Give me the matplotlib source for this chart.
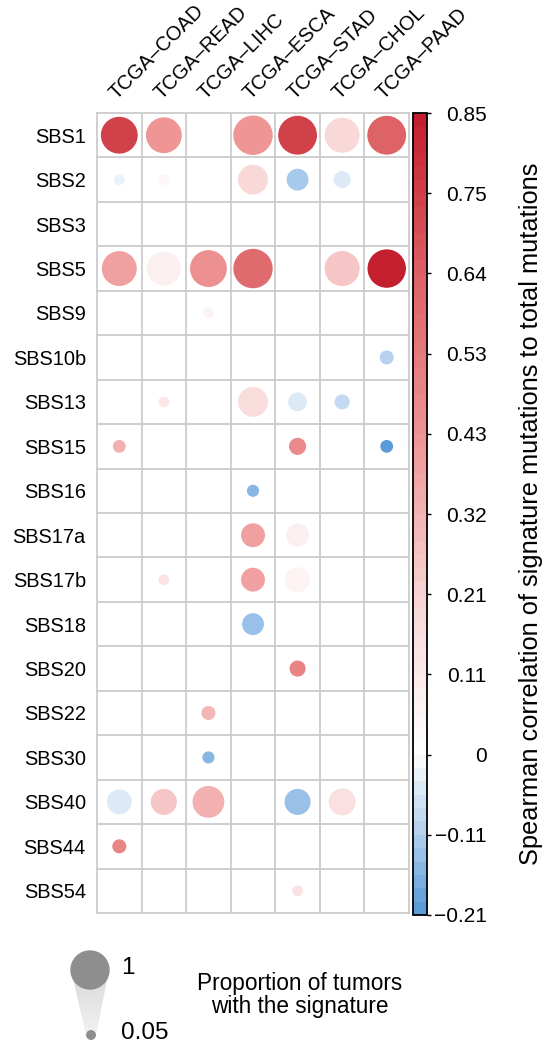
import matplotlib
matplotlib.use("Agg")
import matplotlib.pyplot as plt
import numpy as np
from matplotlib.cm import ScalarMappable
from matplotlib.colors import LinearSegmentedColormap, Normalize
from matplotlib.patches import Polygon

plt.rcParams["font.family"] = ["Liberation Sans", "DejaVu Sans"]

CANCERS = ["TCGA–COAD", "TCGA–READ", "TCGA–LIHC", "TCGA–ESCA",
           "TCGA–STAD", "TCGA–CHOL", "TCGA–PAAD"]
SIGNATURES = ["SBS1", "SBS2", "SBS3", "SBS5", "SBS9", "SBS10b", "SBS13", "SBS15",
              "SBS16", "SBS17a", "SBS17b", "SBS18", "SBS20", "SBS22", "SBS30",
              "SBS40", "SBS44", "SBS54"]
N = np.nan
# proportion of tumors with the signature (circle size)
PROP = [
    [0.87, 0.82, N, 1.00, 0.97, 0.78, 0.97],   # SBS1
    [0.06, 0.06, N, 0.56, 0.29, 0.17, N],      # SBS2
    [N, N, N, N, N, N, N],                     # SBS3
    [0.78, 0.73, 0.87, 1.00, N, 0.78, 0.95],   # SBS5
    [N, N, 0.06, N, N, N, N],                  # SBS9
    [N, N, N, N, N, N, 0.11],                  # SBS10b
    [N, 0.06, N, 0.56, 0.21, 0.13, N],         # SBS13
    [0.09, N, N, N, 0.17, N, 0.09],            # SBS15
    [N, N, N, 0.08, N, N, N],                  # SBS16
    [N, N, N, 0.35, 0.32, N, N],               # SBS17a
    [N, 0.06, N, 0.35, 0.38, N, N],            # SBS17b
    [N, N, N, 0.29, N, N, N],                  # SBS18
    [N, N, N, N, 0.15, N, N],                  # SBS20
    [N, N, 0.11, N, N, N, N],                  # SBS22
    [N, N, 0.08, N, N, N, N],                  # SBS30
    [0.38, 0.42, 0.64, N, 0.42, 0.45, N],      # SBS40
    [0.11, N, N, N, N, N, N],                  # SBS44
    [N, N, N, N, 0.06, N, N],                  # SBS54
]
# spearman correlation of signature mutations to total mutations (colour)
CORR = [
    [0.73, 0.42, N, 0.42, 0.73, 0.18, 0.63],
    [-0.02, 0.05, N, 0.18, -0.115, -0.04, N],
    [N, N, N, N, N, N, N],
    [0.38, 0.09, 0.43, 0.60, N, 0.26, 0.85],
    [N, N, 0.06, N, N, N, N],
    [N, N, N, N, N, N, -0.10],
    [N, 0.12, N, 0.17, -0.05, -0.08, N],
    [0.33, N, N, N, 0.47, N, -0.20],
    [N, N, N, -0.14, N, N, N],
    [N, N, N, 0.38, 0.08, N, N],
    [N, 0.13, N, 0.38, 0.07, N, N],
    [N, N, N, -0.125, N, N, N],
    [N, N, N, N, 0.48, N, N],
    [N, N, 0.31, N, N, N, N],
    [N, N, -0.14, N, N, N, N],
    [-0.04, 0.26, 0.32, N, -0.13, 0.15, N],
    [0.48, N, N, N, N, N, N],
    [N, N, N, N, 0.13, N, N],
]
CBAR_LABELS = ["−0.21", "−0.11", "0", "0.11", "0.21", "0.32", "0.43",
               "0.53", "0.64", "0.75", "0.85"]
LEGEND_PROPS = [1, 0.05]

VMIN, VMAX = -0.21, 0.85
W, H = 548, 1048
FS = 14.4
SIZE1 = (38 * 0.72) ** 2   # marker area for proportion 1


def frac(v):
    return (v - VMIN) / (VMAX - VMIN)


cmap = LinearSegmentedColormap.from_list(
    "bwr_corr",
    [(0, "#5b9bd8"), (frac(-0.11), "#b0cfee"), (frac(0), "#ffffff"),
     (frac(0.21), "#f8d3d3"), (frac(0.43), "#ee9292"), (frac(0.64), "#dd6265"),
     (1, "#c41f2e")], N=60)
norm = Normalize(VMIN, VMAX)

fig = plt.figure(figsize=(W / 100, H / 100), dpi=100)

# background overlay in pixel coordinates (legend)
bg = fig.add_axes([0, 0, 1, 1])
bg.set_xlim(0, W)
bg.set_ylim(H, 0)
bg.axis("off")

ax = fig.add_axes([97 / W, (H - 913) / H, 312 / W, 800 / H])
prop = np.array(PROP, dtype=float)
corr = np.array(CORR, dtype=float)
rows, cols = np.where(~np.isnan(prop))
ax.scatter(cols + 0.5, rows + 0.5, s=SIZE1 * prop[rows, cols],
           c=corr[rows, cols], cmap=cmap, norm=norm,
           edgecolors="face", linewidths=1.0, zorder=3)
ax.set_xlim(0, len(CANCERS))
ax.set_ylim(len(SIGNATURES), 0)
for k in range(1, len(CANCERS)):
    ax.axvline(k, color="#cbcbcb", lw=1.3, zorder=1)
for k in range(1, len(SIGNATURES)):
    ax.axhline(k, color="#cbcbcb", lw=1.3, zorder=1)
for sp in ax.spines.values():
    sp.set_color("#cbcbcb")
    sp.set_linewidth(1.3)

ax.xaxis.tick_top()
ax.set_xticks(np.arange(len(CANCERS)) + 0.5)
ax.set_xticklabels(CANCERS, rotation=45, ha="left", va="bottom",
                   rotation_mode="anchor", fontsize=FS)
ax.set_yticks(np.arange(len(SIGNATURES)) + 0.5)
ax.set_yticklabels(SIGNATURES, fontsize=FS)
ax.tick_params(axis="x", length=0, pad=7)
ax.tick_params(axis="y", length=0, pad=8)

# colorbar
cax = fig.add_axes([413 / W, (H - 915) / H, 14 / W, 802 / H])
cb = fig.colorbar(ScalarMappable(norm=norm, cmap=cmap), cax=cax)
cb.outline.set_linewidth(1.3)
cb.set_ticks(np.linspace(VMIN, VMAX, len(CBAR_LABELS)))
cb.set_ticklabels(CBAR_LABELS)
cax.tick_params(length=3, width=1, pad=40, labelsize=15)
for lbl in cax.get_yticklabels():
    lbl.set_ha("right")
fig.text(531 / W, 1 - 514 / H,
         "Spearman correlation of signature mutations to total mutations",
         rotation=90, ha="center", va="center", fontsize=18.3)

# size legend
grad = np.linspace(0, 1, 100)[:, None]
wedge = Polygon([[71, 970], [109, 970], [96, 1035], [86, 1035]], closed=True,
                facecolor="none", edgecolor="none")
bg.add_patch(wedge)
im = bg.imshow(grad, extent=[70, 110, 1035, 970], cmap=LinearSegmentedColormap.from_list(
    "g", ["#d8d8d8", "#f2f2f2"]), aspect="auto", zorder=1)
im.set_clip_path(wedge)
bg.scatter([90, 91], [970, 1035], s=[SIZE1 * p for p in LEGEND_PROPS],
           color="#8e8e8e", edgecolors="face", linewidths=1.0, zorder=2)
bg.text(121, 968, "1", ha="left", va="center", fontsize=17.5)
bg.text(121, 1033, "0.05", ha="left", va="center", fontsize=17.5)
bg.text(300, 995, "Proportion of tumors\nwith the signature", ha="center",
        va="center", fontsize=16.3, linespacing=1.05)

fig.savefig("out.png", dpi=100)
